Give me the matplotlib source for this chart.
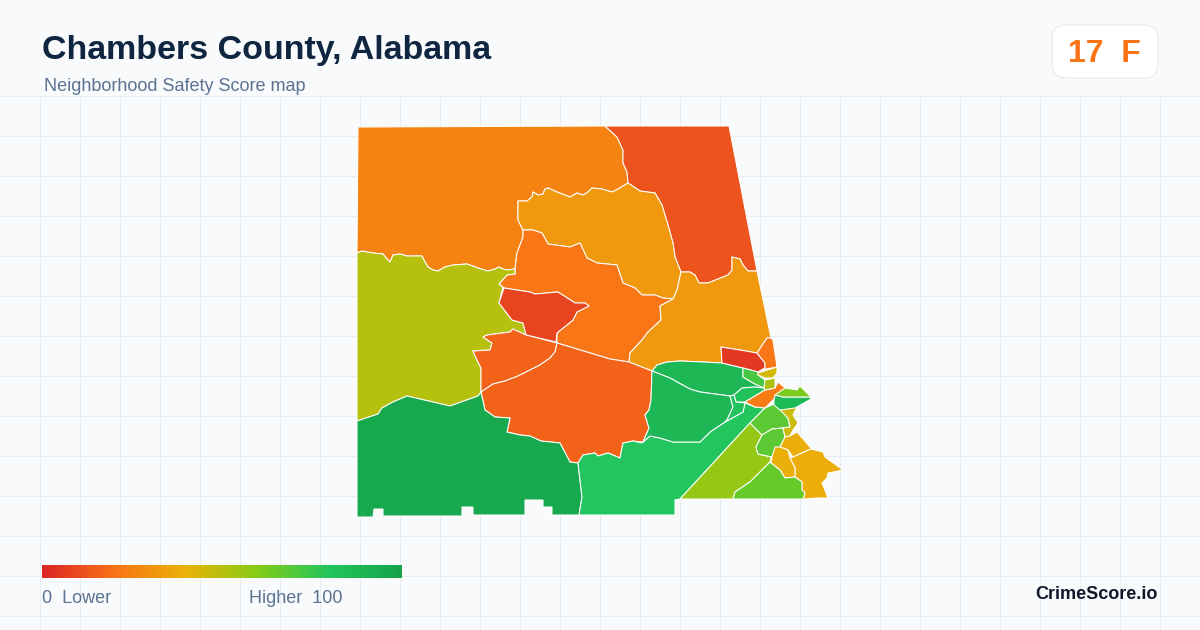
import numpy as np
import matplotlib
matplotlib.use("Agg")
import matplotlib.pyplot as plt
from matplotlib.colors import LinearSegmentedColormap
from matplotlib.patches import FancyBboxPatch, Polygon

plt.rcParams['font.family'] = ['Liberation Sans', 'DejaVu Sans']

title = "Chambers County, Alabama"
subtitle = "Neighborhood Safety Score map"
badge = "17  F"
brand = "CrimeScore.io"
legend_left = "0  Lower"
legend_right = "Higher  100"

ramp_stops = [0, .2, .4, .6, .8, 1]
ramp_colors = ["#dc2626", "#f97316", "#eab308", "#84cc16", "#22c55e", "#16a34a"]

# shared wiggly borders
border_nw_west = [(357,253),(362,251),(367,252),(373,253),(383,254),(387,259),(390,262),(393,255),(400,254),(407,256),(415,256),(422,256),(425,262),(428,267),(433,270),(438,271),(445,267),(453,265),(467,264),(478,268),(488,271),(495,269),(499,267),(503,269),(507,270),(515,269)]
border_nw_nc = [(518,201),(527,201),(532,197),(533,192),(538,195),(543,194),(545,189),(548,188),(557,192),(570,197),(577,193),(583,195),(588,192),(592,188),(602,189),(612,192),(618,189),(628,183)]

nw = [(358,127),(605,126),(617,137),(623,150),(623,163),(627,172)] + border_nw_nc[::-1] + [(518,220),(523,230),(523,237),(517,253)] + border_nw_west[::-1]
ne = [(605,126),(729,126),(757,271),(748,271),(743,265),(740,259),(732,257),(732,270),(728,275),(708,283),(699,283),(695,275),(690,272),(681,272),(675,257),(673,243),(668,225),(662,205),(655,193),(640,191),(628,183),(627,172),(623,163),(623,150),(617,137)]
north_central = border_nw_nc + [(640,191),(655,193),(662,205),(668,225),(673,243),(675,257),(681,272),(677,290),(673,299),(663,298),(655,295),(642,295),(635,288),(623,283),(617,265),(597,263),(587,258),(580,243),(570,247),(548,244),(542,233),(533,230),(523,230),(518,220)]
central = [(515,269),(517,253),(523,237),(523,230),(533,230),(542,233),(548,244),(570,247),(580,243),(587,258),(597,263),(617,265),(623,283),(635,288),(642,295),(655,295),(663,298),(673,299),(660,306),(661,320),(648,332),(642,340),(630,353),(629,362),(610,359),(557,343),(557,333),(573,320),(577,312),(589,306),(585,303),(575,303),(558,292),(535,294),(530,292),(504,288),(499,284),(507,275),(515,274)]
west = border_nw_west + [(515,274),(507,275),(499,284),(503,287),(499,303),(512,320),(523,323),(526,335),(513,329),(510,332),(487,335),(483,337),(492,343),(490,350),(473,351),(477,360),(481,368),(481,392),(478,396),(450,406),(407,396),(393,402),(382,408),(378,414),(357,421)]
small_red = [(504,288),(530,292),(535,294),(558,292),(575,303),(585,303),(589,306),(577,312),(573,320),(557,333),(556,342),(526,335),(523,323),(512,320),(499,303)]
east = [(681,272),(690,272),(695,275),(699,283),(708,283),(728,275),(732,270),(732,257),(740,259),(743,265),(748,271),(757,271),(771,338),(767,338),(757,353),(740,350),(721,347),(722,363),(703,362),(680,361),(667,362),(657,365),(652,371),(629,362),(630,353),(642,340),(648,332),(661,320),(660,306),(673,299),(677,290)]
west_mid = [(481,392),(481,368),(477,360),(473,351),(490,350),(492,343),(483,337),(487,335),(510,332),(513,329),(526,335),(557,343),(555,352),(550,358),(540,365),(518,376),(505,381),(493,384)]
south_central = [(557,343),(610,359),(629,362),(652,371),(651,400),(649,410),(645,415),(649,428),(643,442),(633,441),(623,443),(620,458),(608,453),(598,456),(595,453),(583,455),(578,463),(570,462),(560,443),(541,441),(530,436),(520,435),(507,432),(510,418),(495,417),(485,410),(481,392),(493,384),(505,381),(518,376),(540,365),(550,358),(555,352)]
southwest = [(357,421),(378,414),(382,408),(393,402),(407,396),(450,406),(478,396),(481,392),(485,410),(495,417),(510,418),(507,432),(520,435),(530,436),(541,441),(560,443),(570,462),(578,463),(582,497),(579,515),(552,515),(552,507),(543,507),(543,500),(525,500),(525,515),(473,515),(473,507),(462,507),(462,516),(383,516),(383,509),(374,509),(373,517),(357,517)]
south = [(578,463),(583,455),(595,453),(598,456),(608,453),(620,458),(623,443),(633,441),(642,443),(650,436),(660,438),(673,442),(700,442),(710,432),(725,422),(743,412),(745,403),(755,407),(765,408),(750,423),(680,499),(675,500),(675,515),(579,515),(582,497)]
east_north = [(652,371),(657,365),(667,362),(680,361),(703,362),(722,363),(743,368),(743,377),(753,383),(764,388),(755,387),(742,388),(734,395),(730,396),(700,392),(690,389),(670,378)]
east_south = [(652,371),(670,378),(690,389),(700,392),(730,396),(733,407),(727,420),(725,422),(710,432),(700,442),(673,442),(660,438),(650,436),(643,442),(649,428),(645,415),(649,410),(651,400)]
pocket_a = [(734,395),(742,388),(755,387),(764,388),(765,390),(755,396),(745,402),(736,402)]
pocket_b = [(730,396),(734,395),(736,402),(745,403),(743,412),(725,422),(727,420),(733,407)]
east_red = [(721,347),(740,350),(757,353),(765,363),(765,368),(758,372),(743,368),(722,363)]
east_sliver = [(767,338),(771,338),(773,340),(777,367),(766,369),(758,372),(765,368),(765,363),(757,353)]
strip = [(745,402),(755,396),(765,390),(775,388),(778,382),(785,388),(765,408),(755,407)]
mini_green = [(743,368),(758,372),(758,375),(765,380),(764,388),(753,383),(743,377)]
mini_yellow = [(758,373),(777,367),(777,373),(773,378),(765,378),(758,375)]
mini_olive = [(765,380),(775,378),(775,388),(765,390),(764,388)]
se_lime = [(680,499),(750,423),(762,435),(756,447),(758,454),(771,457),(770,462),(750,482),(735,492),(733,499)]
block_a = [(765,408),(774,404),(780,408),(788,418),(790,427),(783,428),(772,429),(762,435),(750,423)]
block_b = [(762,435),(772,429),(783,428),(785,437),(780,447),(772,457),(758,454),(756,447)]
tail_yellow = [(780,410),(788,408),(797,407),(793,415),(798,423),(793,430),(790,436),(785,437),(783,428),(790,427),(788,418)]
teal = [(774,400),(775,395),(783,397),(810,397),(811,399),(795,408),(780,410),(774,405)]
tip_lime = [(785,388),(797,390),(800,386),(811,397),(783,397),(775,395)]
se_upper = [(790,436),(797,432),(810,447),(811,449),(793,457),(788,450),(780,447),(785,437)]
se_big = [(793,457),(811,449),(823,452),(825,457),(843,470),(828,473),(827,478),(822,483),(828,498),(818,498),(803,499),(805,493),(802,490),(802,482),(795,477),(795,468),(790,458)]
se_mid = [(772,457),(775,447),(780,447),(788,450),(790,458),(795,468),(795,477),(785,478),(780,470),(771,463)]
se_bottom = [(733,499),(735,492),(750,482),(770,462),(771,463),(780,470),(785,478),(795,477),(802,482),(802,490),(805,493),(803,499)]

regions = [nw, ne, north_central, central, west, small_red, east, west_mid, south_central, southwest,
           south, east_north, east_south, pocket_a, pocket_b, east_red, east_sliver, strip, mini_green,
           mini_yellow, mini_olive, se_lime, block_a, block_b, tail_yellow, teal, tip_lime, se_upper,
           se_big, se_mid, se_bottom]
scores = [25, 12, 32, 21, 50, 8, 32, 16, 16, 97,
          80, 88, 88, 82, 82, 5, 21, 23, 72,
          44, 52, 57, 68, 68, 46, 86, 62, 38,
          38, 39, 66]

cmap = LinearSegmentedColormap.from_list("score", list(zip(ramp_stops, ramp_colors)))

fig = plt.figure(figsize=(12, 6.3), dpi=100, facecolor="#f8fafc")
ax = fig.add_axes([0, 0, 1, 1])
ax.set_xlim(0, 1200)
ax.set_ylim(630, 0)
ax.axis("off")

for x in np.arange(40, 1200, 40):
    ax.plot([x, x], [96, 630], color="#e6edf2", lw=0.72, zorder=1)
for y in np.arange(96, 630, 40):
    ax.plot([0, 1200], [y, y], color="#e6edf2", lw=0.72, zorder=1)

for poly, score in zip(regions, scores):
    ax.add_patch(Polygon(poly, closed=True, facecolor=cmap(score / 100), edgecolor="#ffffff",
                         lw=0.75, joinstyle="round", zorder=2))

ax.imshow(np.linspace(0, 1, 360)[None, :], cmap=cmap, extent=(42, 402, 578, 565), aspect="auto", zorder=3)
ax.set_xlim(0, 1200)
ax.set_ylim(630, 0)

ax.text(42, 59, title, fontsize=24.48, fontweight="bold", color="#0f2540", va="baseline", ha="left", zorder=4)
ax.text(44, 91, subtitle, fontsize=12.96, color="#5b7292", va="baseline", ha="left", zorder=4)
ax.add_patch(FancyBboxPatch((1052, 25), 106, 53, boxstyle="round,pad=0,rounding_size=14",
                            facecolor="#ffffff", edgecolor="#e2e8f0", lw=0.72, zorder=4))
ax.text(1104, 62, badge, fontsize=23, fontweight="bold", color="#f97316", va="baseline", ha="center", zorder=5)
ax.text(42, 603, legend_left, fontsize=12.96, color="#5b7292", va="baseline", ha="left", zorder=4)
ax.text(249, 603, legend_right, fontsize=12.96, color="#5b7292", va="baseline", ha="left", zorder=4)
ax.text(1158, 599, brand, fontsize=13, fontweight="bold", color="#0f172a", va="baseline", ha="right", zorder=4)

fig.savefig("out.png", dpi=100, facecolor=fig.get_facecolor())
